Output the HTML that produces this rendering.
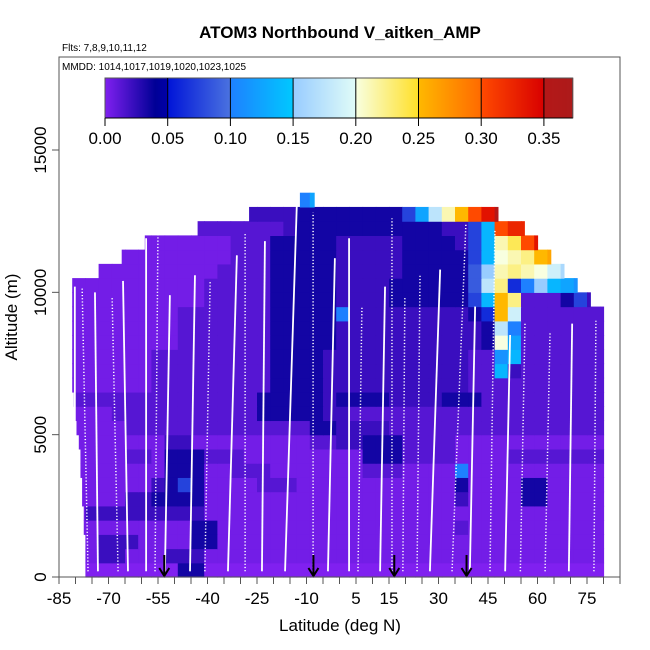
<!DOCTYPE html>
<html><head><meta charset="utf-8"><style>
html,body{margin:0;padding:0;background:#fff;}
svg{display:block;font-family:"Liberation Sans",Arial,sans-serif;}
</style></head><body>
<svg id="chart" width="650" height="650" viewBox="0 0 650 650" xmlns="http://www.w3.org/2000/svg">
<text x="340" y="38" text-anchor="middle" font-size="17" font-weight="bold">ATOM3 Northbound V_aitken_AMP</text>
<text x="62" y="51" font-size="10">Flts: 7,8,9,10,11,12</text>
<g id="heat"></g>
<g id="profiles"></g>
<g id="arrows"></g>
<rect x="59" y="57" width="561" height="520" fill="none" stroke="#555" stroke-width="1"/>
<text x="62" y="70" font-size="10">MMDD: 1014,1017,1019,1020,1023,1025</text>
<g id="cbar"></g>
<g id="xaxis"></g>
<g id="yaxis"></g>
<text x="340" y="631" text-anchor="middle" font-size="17">Latitude (deg N)</text>
<text transform="translate(17,317) rotate(-90)" text-anchor="middle" font-size="17">Altitude (m)</text>
</svg>
<script>
// ---- data ----
const xTicks = [-85,-70,-55,-40,-25,-10,5,15,30,45,60,75];
const yTicks = [0,5000,10000,15000];
const cbTicks = [0,0.05,0.10,0.15,0.20,0.25,0.30,0.35];
const cbTickLabels = ["0.00","0.05","0.10","0.15","0.20","0.25","0.30","0.35"];
const binLat0 = -81;
const binLatWidth = 4;
const binAltHeight = 500;
const rowMin = [-77,-77,-77,-77.5,-77.5,-78,-78,-78.5,-78.5,-79,-79.7,-80,-80.5,-81,-81,-81,-81,-81,-81,-81,-81,-73,-66,-59,-43,-27.4,-12];
const rowMax = [80,80,80,80,80,80,80,80,80,80,80,80,80,80,80,80,80,80,80,76,72,68,64,60,56,48,-7.7];
const rows = [
"0*8,4*2,0*31",
"1*2,3*2,1*3,3*3,1*31",
"1*2,3*3,1*4,4*2,1*30",
"1*9,4*2,1*18,2*1,1*11",
"1*1,3*9,1*31",
"1*4,3*2,4*4,1*19,3*1,1*4,4*2,1*5",
"1*6,3*1,4*1,6*1,4*1,1*4,2*3,1*12,4*1,1*4,4*2,1*5",
"1*7,4*3,1*2,2*3,1*7,2*3,1*4,8*1,1*11",
"1*4,2*2,1*1,4*3,2*3,1*9,4*3,2*4,1*4,2*8",
"1*7,3*2,1*9,2*2,3*2,4*3,2*4,1*12",
"1*4,2*14,4*2,3*4,2*17",
"1*3,2*11,4*5,3*2,2*20",
"2*14,4*5,3*1,4*4,3*4,4*3,2*10",
"1*6,2*9,4*4,3*11,2*11",
"1*6,2*9,4*4,3*11,2*2,b*1,3*1,2*7",
"1*6,2*9,4*4,3*11,2*2,9*1,b*1,2*7",
"1*8,2*7,4*5,3*11,4*1,g*1,a*1,2*7",
"1*8,2*7,4*5,3*11,4*1,e*1,8*1,2*7",
"1*8,2*7,4*5,8*1,3*9,4*1,5*1,k*1,f*1,2*7",
"1*10,2*5,4*5,3*4,4*6,6*1,b*1,k*1,i*1,2*3,4*1,6*1,3*2",
"1*10,2*5,4*5,3*4,4*6,7*1,e*1,i*1,5*1,8*1,c*1,b*1,a*1,9*1",
"1*11,2*4,4*5,3*5,4*5,7*1,c*1,h*1,i*1,h*1,g*1,f*1,d*1",
"1*12,2*3,4*5,3*5,4*5,6*1,b*1,g*1,h*1,i*1,k*1,l*1",
"1*12,2*3,4*5,3*5,4*4,3*1,6*1,b*1,h*1,j*1,o*1,r*1",
"2*16,3*1,4*11,3*2,6*1,b*1,o*1,q*1,q*1",
"3*17,4*8,6*1,a*1,e*1,h*1,k*1,o*1,r*1,s*1",
".*17,8*1,a*1"
];
const profLatBottom = [-80.2,-76.2,-73.2,-67.1,-64.1,-58.6,-52.9,-55.9,-45.3,-40.8,-33.8,-28.6,-23.5,-16.5,-8.0,-3.5,2.9,5.6,12.3,15.9,19.2,23.5,27.4,34.1,39.5,45.6,50.2,54.8,62.3,69.5,77.1];
const profLatTop = [-80.2,-78.0,-74.1,-68.9,-65.6,-58.6,-51.4,-55.0,-43.8,-39.2,-31.1,-28.6,-22.6,-12.9,-8.0,-1.4,2.9,6.8,13.8,15.9,19.8,24.4,30.5,38.3,41.1,47.1,51.7,56.2,63.8,70.5,77.7];
const profAltTop = [10200,10200,10000,9800,10400,11900,9900,12200,10600,10400,11300,12100,11800,13200,12800,11200,11900,9500,10200,12600,9800,10600,10800,12400,9500,12200,8500,8900,8600,8900,9000];
const profSolid = [1,0,1,0,1,1,1,0,1,0,1,0,1,1,0,1,1,0,1,0,0,0,1,0,1,0,1,0,0,1,0];
const arrowLats = [-53.1,-7.9,16.6,38.5];

// ---- scales ----
const X0=59, X1=620, LATMIN=-85, LATMAX=85;
const xS = lat => X0 + (lat-LATMIN)*(X1-X0)/(LATMAX-LATMIN);
const yS = alt => 577 - alt*427/15000;
const CB0=105, CBPX=1254, CBMAX=0.373;
const cS = v => CB0 + v*CBPX;
const NS="http://www.w3.org/2000/svg";
function mk(tag, attrs, parent){const e=document.createElementNS(NS,tag);for(const k in attrs)e.setAttribute(k,attrs[k]);parent.appendChild(e);return e;}
const segs=[[0,0.04,[128,32,240],[0,0,150]],[0.04,0.05,[0,0,150],[0,0,168]],[0.05,0.1,[0,20,216],[74,114,224]],[0.1,0.15,[30,128,255],[0,200,255]],[0.15,0.2,[152,204,255],[224,252,248]],[0.2,0.25,[248,255,224],[255,224,40]],[0.25,0.3,[255,184,0],[255,106,0]],[0.3,0.35,[255,74,0],[216,0,0]],[0.35,0.4,[180,24,24],[164,28,28]]];
function col(v){for(const s of segs){if(v<s[1]||s===segs[segs.length-1]){const t=Math.max(0,Math.min(1,(v-s[0])/(s[1]-s[0])));const c=s[2].map((a,i)=>Math.round(a+(s[3][i]-a)*t));return `rgb(${c[0]},${c[1]},${c[2]})`;}}}
const lowVals=[0,0.004,0.013,0.022,0.034];
function lvl(ch){const n=parseInt(ch,36);return n<5?lowVals[n]:n*0.0125;}

// ---- heatmap ----
const heat=document.getElementById('heat');
rows.forEach((spec,r)=>{
  let i=0;
  spec.split(',').forEach(part=>{
    const [ch,cnt]=part.split('*');
    for(let k=0;k<+cnt;k++,i++){
      if(ch==='.')continue;
      const lo=Math.max(binLat0+i*binLatWidth,rowMin[r]);
      const hi=Math.min(binLat0+(i+1)*binLatWidth,rowMax[r]);
      if(hi<=lo)continue;
      const v=lvl(ch);
      const x=xS(lo), y=yS((r+1)*binAltHeight);
      const rc=mk('rect',{x:x.toFixed(2),y:y.toFixed(2),width:(xS(hi)-x+0.6).toFixed(2),height:(yS(r*binAltHeight)-y+0.6).toFixed(2),fill:col(v)},heat);
      
      
    }
  });
});

// ---- profiles ----
const pg=document.getElementById('profiles');
profLatBottom.forEach((lb,k)=>{
  const a={x1:xS(lb),y1:yS(200),x2:xS(profLatTop[k]),y2:yS(profAltTop[k]),stroke:'#fff','stroke-width':profSolid[k]?1.8:1.5};
  if(!profSolid[k])a['stroke-dasharray']='1.2,2';
  const ln=mk('line',a,pg);
  
  
});

// ---- arrows ----
const ag=document.getElementById('arrows');
arrowLats.forEach(l=>{
  const x=xS(l);
  const g=mk('g',{},ag);
  
  
  mk('line',{x1:x,y1:555,x2:x,y2:575,stroke:'#000','stroke-width':2},g);
  mk('polyline',{points:`${x-5},${568} ${x},${576} ${x+5},${568}`,fill:'none',stroke:'#000','stroke-width':2},g);
});

// ---- colorbar ----
const cb=document.getElementById('cbar');
for(let p=CB0;p<CB0+CBMAX*CBPX;p+=1){
  const v=(p-CB0+0.5)/CBPX;
  mk('rect',{x:p,y:78,width:1.2,height:40,fill:col(v)},cb);
}
mk('rect',{x:CB0,y:78,width:CBMAX*CBPX,height:40,fill:'none',stroke:'#555','stroke-width':1},cb);
cbTicks.forEach((t,k)=>{
  const x=cS(t);
  if(k>0)mk('line',{x1:x,y1:78,x2:x,y2:118,stroke:'#000','stroke-width':1},cb);
  mk('line',{x1:x,y1:118,x2:x,y2:126,stroke:'#000','stroke-width':1},cb);
  const tx=mk('text',{x:x,y:144,'text-anchor':'middle','font-size':17},cb);
  tx.textContent=cbTickLabels[k];
  
  
});
mk('line',{x1:CB0,y1:118,x2:CB0+CBMAX*CBPX,y2:118,stroke:'#000','stroke-width':1},cb);

// ---- x axis ----
const xa=document.getElementById('xaxis');
for(let l=-85;l<=85;l+=5){mk('line',{x1:xS(l),y1:577,x2:xS(l),y2:584,stroke:'#555','stroke-width':1},xa);}
xTicks.forEach(t=>{
  const tx=mk('text',{x:xS(t),y:604,'text-anchor':'middle','font-size':17},xa);
  tx.textContent=t;
  
  
});
// ---- y axis ----
const ya=document.getElementById('yaxis');
yTicks.forEach(t=>{
  const y=yS(t);
  mk('line',{x1:52,y1:y,x2:59,y2:y,stroke:'#555','stroke-width':1},ya);
  const tx=mk('text',{transform:`translate(46,${y}) rotate(-90)`,'text-anchor':'middle','font-size':17},ya);
  tx.textContent=t;
  
  
});
</script>
</body></html>
